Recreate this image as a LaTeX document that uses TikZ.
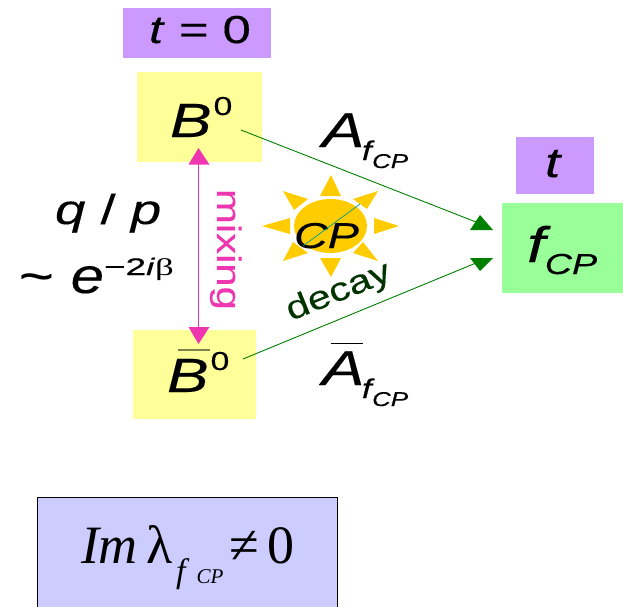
\documentclass[tikz,border=0pt]{standalone}
\usepackage{fontspec}
\usetikzlibrary{shapes.geometric}
\setmainfont{Liberation Sans}[UprightFeatures={FakeBold=0.25},ItalicFeatures={FakeBold=0.25}]
\newfontfamily\serifx{Liberation Serif}
\definecolor{boxyellow}{HTML}{FFFF99}
\definecolor{boxpurple}{HTML}{CC99FF}
\definecolor{boxgreen}{HTML}{99FF99}
\definecolor{boxblue}{HTML}{CCCCFF}
\definecolor{mixpink}{HTML}{EE36B0}
\definecolor{linegreen}{HTML}{008000}
\definecolor{darkgreen}{HTML}{003300}
\definecolor{sunyellow}{HTML}{FFCC00}
\definecolor{teal2}{HTML}{009999}
\newcommand{\fs}[1]{\fontsize{#1}{#1}\selectfont}
\newcommand{\wide}[1]{\scalebox{1.3}[1]{#1}}
\newcommand{\Afcp}{\wide{\fs{49}\textit{A}\kern-2pt\raisebox{-13pt}{\fs{27}\textit{f}\kern-2pt\raisebox{-8pt}{\fs{20}\textit{CP}}}}}
\newcommand{\Bzero}{\wide{\fs{48}\textit{B}\kern1.5pt\raisebox{22pt}{\fs{26}0}}}
\tikzset{
  panel/.style={inner sep=0pt,outer sep=0pt,anchor=center,align=center},
  label/.style={inner sep=0pt,outer sep=0pt,anchor=base west,text=black},
  decayline/.style={draw=linegreen,line width=0.9pt},
  headgreen/.style={fill=linegreen},
  headpink/.style={fill=mixpink},
  ray/.style={fill=sunyellow},
}
\begin{document}
\begin{tikzpicture}[x=1pt,y=-1pt]
\useasboundingbox (0,0) rectangle (623,606);
% boxes
\node[panel,fill=boxpurple,minimum width=148pt,minimum height=50pt] (t0) at (197,33) {};
\node[label] (t0t) at (149,43) {\wide{\fs{39}\textit{t} = 0}};
\node[panel,fill=boxpurple,minimum width=78pt,minimum height=57pt] (tt) at (555,165.5) {};
\node[label] (ttt) at (545,177) {\wide{\fs{42}\textit{t}}};
\node[panel,fill=boxyellow,minimum width=125pt,minimum height=90pt] (B) at (199.5,117) {};
\node[panel,fill=boxyellow,minimum width=123pt,minimum height=89pt] (Bb) at (194.5,374.5) {};
\node[panel,fill=boxgreen,minimum width=121pt,minimum height=90pt] (f) at (562.5,248) {};
% B labels
\node[label] (Bt) at (170,137) {\Bzero};
\node[label] (Bbt) at (167,392) {\Bzero};
\fill[black!50!boxyellow] (178,349) rectangle (210,351);
\node[label] (ft) at (527,262) {\wide{\fs{50}\textit{f}\kern-4.5pt\raisebox{-12pt}{\fs{29}\textit{CP}}}};
% sun
\fill[ray] (331,175) -- (320,196) -- (341,196) -- cycle;
\fill[ray] (331,277) -- (320,258) -- (341,258) -- cycle;
\fill[ray] (399,226) -- (374,218) -- (374,234) -- cycle;
\fill[ray] (262,226) -- (290,218) -- (290,234) -- cycle;
\fill[ray] (378,191) -- (353,199) -- (367,209) -- cycle;
\fill[ray] (283,191) -- (308,199) -- (294,210) -- cycle;
\fill[ray] (378,261) -- (363,242) -- (353,253) -- cycle;
\fill[ray] (283,261) -- (293,242) -- (308,253) -- cycle;
\node[fill=sunyellow,ellipse,inner sep=0pt,minimum width=73pt,minimum height=54pt] (sun) at (330.5,226) {};
\node[label] (cp) at (294,248) {\wide{\fs{36}\textit{CP}}};
\coordinate (s1) at (303,246);
\coordinate (s2) at (360,204);
\draw[teal2,line width=0.7pt] (s1) -- (s2);
% decay lines
\coordinate (a1) at (241,130);
\coordinate (a2) at (476,222);
\coordinate (b1) at (243,359);
\coordinate (b2) at (476,263);
\draw[decayline] (a1) -- (a2);
\draw[decayline] (b1) -- (b2);
\fill[headgreen] (480,215) -- (470,230) -- (493,230) -- cycle;
\fill[headgreen] (480,271) -- (470,258) -- (493,258) -- cycle;
% mixing arrow
\coordinate (m1) at (198.5,160);
\coordinate (m2) at (198.5,330);
\draw[mixpink,line width=1pt] (m1) -- (m2);
\fill[headpink] (198.5,148) -- (188.5,164.5) -- (209.5,164.5) -- cycle;
\fill[headpink] (198.5,344) -- (188.5,327) -- (209.5,327) -- cycle;
% labels
\node[label,rotate=-90,text=mixpink] (mix) at (217,189) {\scalebox{1.23}[1]{\fs{34}mixing}};
\node[label,rotate=22,text=darkgreen] (dec) at (291,321) {\scalebox{1.25}[1]{\fs{33}decay}};
\node[label] (Af) at (322,147) {\Afcp};
\node[label] (Abf) at (322,385) {\Afcp};
\fill[black] (331,342.5) rectangle (363,344);
\node[label] (qp) at (55,224) {\wide{\fs{42}\textit{q} / \textit{p}}};
\node[label] (eb) at (19,293) {\scalebox{1.2}[1]{\fs{50}\textasciitilde{} \textit{e}\raisebox{18pt}{\scalebox{1.28}[1]{\fs{24}−2\textit{i}{\serifx β}}}}};
% condition box
\node[panel,fill=boxblue,draw=black,line width=0.8pt,minimum width=300pt,minimum height=130pt] (im) at (187,562) {};
\node[label] (imt) at (81,563) {\serifx\fs{54}\textit{Im}\,λ\raisebox{-19pt}{\kern3pt\fs{34}\textit{f}\raisebox{-1pt}{\fs{21}\kern7pt\textit{CP}}}\kern6pt≠\kern8pt0};
\end{tikzpicture}
\end{document}
